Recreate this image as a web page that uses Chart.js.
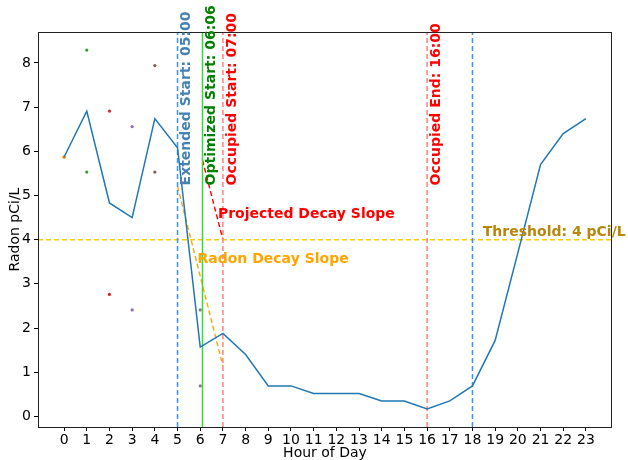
<!DOCTYPE html>
<html>
<head>
<meta charset="utf-8">
<script src="https://cdn.jsdelivr.net/npm/chart.js@4"></script>
<style>
  html, body { margin: 0; padding: 0; background: #fff; }
  #wrap { width: 628px; height: 460px; }
</style>
</head>
<body>
<div id="wrap"><canvas id="chart" width="628" height="460"></canvas></div>
<script>
// hourly mean radon (pCi/L)
const hours = [0, 1, 2, 3, 4, 5, 6, 7, 8, 9, 10, 11, 12, 13, 14, 15, 16, 17, 18, 19, 20, 21, 22, 23];
const hourlyRadon = [5.87, 6.91, 4.83, 4.50, 6.74, 6.08, 1.57, 1.88, 1.40, 0.69, 0.69, 0.52,
  0.52, 0.52, 0.35, 0.35, 0.17, 0.35, 0.69, 1.72, 3.70, 5.70, 6.40, 6.74];

// individual readings
const readingHours = [0, 0, 1, 1, 2, 2, 3, 3, 4, 4, 6, 6];
const readingValues = [5.87, 5.87, 8.29, 5.53, 6.91, 2.76, 6.56, 2.41, 7.94, 5.53, 2.41, 0.69];

// schedule
const extendedStart = 5;
const optimizedStart = 6.1;
const occupiedStart = 7;
const occupiedEnd = 16;
const extendedEnd = 18;
const threshold = 4;

// decay slopes
const decayHours = [5, 7];
const decayValues = [5.21, 1.14];
const projHours = [6.1, 7];
const projValues = [5.8, 4.0];

const yTicks = [0, 1, 2, 3, 4, 5, 6, 7, 8];
const xMin = -1.15, xMax = 24.15, yMin = -0.24, yMax = 8.70;

const tab10 = ['#1f77b4', '#ff7f0e', '#2ca02c', '#d62728', '#9467bd', '#8c564b', '#e377c2', '#7f7f7f', '#bcbd22', '#17becf'];

function pts(xs, ys) {
  return xs.map((x, i) => ({ x: x, y: ys[i] }));
}
function vline(x, color, dash) {
  return {
    type: 'line', data: [{ x: x, y: yMin }, { x: x, y: yMax }],
    borderColor: color, borderWidth: 1.5, borderDash: dash, pointRadius: 0
  };
}

const notes = [
  { x: extendedStart, text: 'Extended Start: 05:00', color: '#4682b4' },
  { x: optimizedStart, text: 'Optimized Start: 06:06', color: '#008000' },
  { x: occupiedStart, text: 'Occupied Start: 07:00', color: '#ff0000' },
  { x: occupiedEnd, text: 'Occupied End: 16:00', color: '#ff0000' }
];

const notePlugin = {
  id: 'notes',
  afterDraw(chart) {
    const c = chart.ctx, xs = chart.scales.x, ys = chart.scales.y, a = chart.chartArea;
    c.save();
    c.strokeStyle = '#222';
    c.lineWidth = 1;
    c.strokeRect(a.left + 0.5, a.top + 0.5, a.right - a.left - 1, a.bottom - a.top);
    c.font = 'bold 14px "DejaVu Sans"';
    notes.forEach(n => {
      c.save();
      c.translate(xs.getPixelForValue(n.x) + 8, ys.getPixelForValue(5.25) + 1);
      c.rotate(-Math.PI / 2);
      c.fillStyle = n.color;
      c.textAlign = 'left';
      c.textBaseline = 'middle';
      c.fillText(n.text, 0, 1);
      c.restore();
    });
    c.textAlign = 'left';
    c.textBaseline = 'middle';
    c.fillStyle = '#ff0000';
    c.fillText('Projected Decay Slope', xs.getPixelForValue(7) - 5, ys.getPixelForValue(4.5) - 3);
    c.fillStyle = '#ffa500';
    c.fillText('Radon Decay Slope', xs.getPixelForValue(6.1) - 5, ys.getPixelForValue(3.6) + 2);
    c.fillStyle = '#b8860b';
    c.fillText('Threshold: 4 pCi/L', xs.getPixelForValue(18.5) - 1, ys.getPixelForValue(4.2) + 2);
    c.restore();
  }
};

new Chart(document.getElementById('chart').getContext('2d'), {
  type: 'scatter',
  data: {
    datasets: [
      {
        type: 'line', data: pts(hours, hourlyRadon),
        borderColor: '#1f77b4', borderWidth: 1.5, pointRadius: 0, tension: 0
      },
      {
        data: pts(readingHours, readingValues),
        pointRadius: 1.6, borderWidth: 0,
        backgroundColor: readingHours.map(h => tab10[(h + 1) % 10])
      },
      vline(extendedStart, '#3894f8', [5, 3]),
      vline(optimizedStart, '#33dd33', []),
      vline(occupiedStart, '#ff8080', [5, 3]),
      vline(occupiedEnd, '#ff8080', [5, 3]),
      vline(extendedEnd, '#3894f8', [5, 3]),
      {
        type: 'line', data: [{ x: xMin, y: threshold }, { x: xMax, y: threshold }],
        borderColor: '#f5cc00', borderWidth: 1.5, borderDash: [5, 3], pointRadius: 0
      },
      {
        type: 'line', data: pts(decayHours, decayValues),
        borderColor: '#ffa500', borderWidth: 1.4, borderDash: [5, 3], pointRadius: 0
      },
      {
        type: 'line', data: pts(projHours, projValues),
        borderColor: '#ff0000', borderWidth: 1.4, borderDash: [5, 3], pointRadius: 0
      }
    ]
  },
  options: {
    animation: false,
    responsive: false,
    layout: { padding: { left: 0, top: 32, right: 16, bottom: 0 } },
    plugins: { legend: { display: false }, tooltip: { enabled: false } },
    scales: {
      x: {
        type: 'linear', min: xMin, max: xMax,
        afterBuildTicks: s => { s.ticks = hours.map(v => ({ value: v })); },
        afterFit: s => { s.height = 33; },
        grid: { drawOnChartArea: false, tickLength: 4, color: '#000', tickColor: '#000' },
        border: { display: false },
        ticks: { color: '#000', font: { family: 'DejaVu Sans', size: 14 }, padding: 1, maxRotation: 0, autoSkip: false },
        title: { display: true, text: 'Hour of Day', color: '#000', font: { family: 'DejaVu Sans', size: 14 }, padding: { top: 0, bottom: -2 } }
      },
      y: {
        type: 'linear', min: yMin, max: yMax,
        afterBuildTicks: s => { s.ticks = yTicks.map(v => ({ value: v })); },
        afterFit: s => { s.width = 38; },
        grid: { drawOnChartArea: false, tickLength: 4, color: '#000', tickColor: '#000' },
        border: { display: false },
        ticks: { color: '#000', font: { family: 'DejaVu Sans', size: 14 }, padding: 3 },
        title: { display: true, text: 'Radon pCi/L', color: '#000', font: { family: 'DejaVu Sans', size: 14 }, padding: { top: 7, bottom: 0 } }
      }
    }
  },
  plugins: [notePlugin]
});
</script>
</body>
</html>
